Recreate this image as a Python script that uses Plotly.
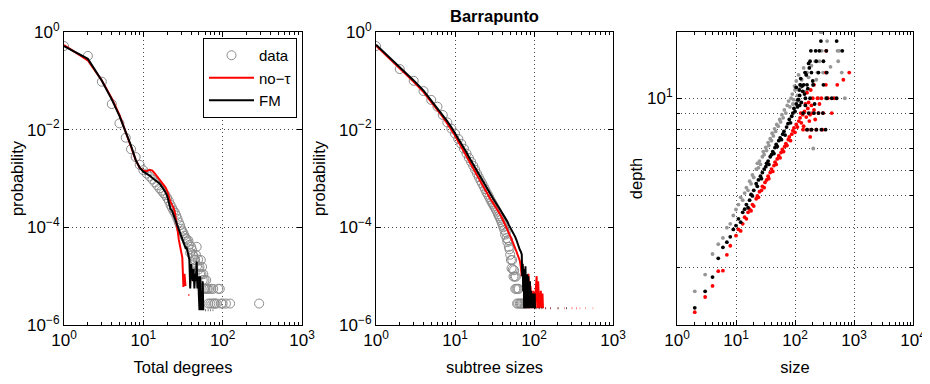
import plotly.graph_objects as go

# ---------------- data: left panel (total degrees) ----------------
deg_data = [1, 2, 3, 4, 5, 6, 7, 8, 9, 10, 11, 12, 13, 14, 15, 16, 17, 18, 19, 20,
            21, 22, 23, 24, 25, 26, 27, 28, 29, 30, 31, 32, 33, 34, 35, 36, 37, 38, 39, 40,
            41, 42, 43, 44, 45, 46, 47, 48, 49, 50, 51, 52, 53, 54, 55, 56, 57, 58, 59, 60,
            62, 63, 65, 66, 68, 70, 72, 74, 76, 78, 80, 84, 88, 92, 96, 100, 110, 124, 288]
prob_deg_data = [0.516, 0.324, 0.0959, 0.0335, 0.0135, 0.00684, 0.00398, 0.00275, 0.00191, 0.00148,
                 0.00126, 0.00110, 0.000955, 0.000832, 0.000724, 0.000631, 0.000562, 0.000501, 0.000457, 0.000398,
                 0.000347, 0.000288, 0.000251, 0.000219, 0.000200, 0.000174, 0.000148, 0.000126, 0.000110, 9.33e-5,
                 8.32e-5, 7.59e-5, 6.76e-5, 6.03e-5, 5.75e-5, 5.01e-5, 5.37e-5, 4.37e-5, 3.02e-5, 3.98e-5,
                 3.47e-5, 2.75e-5, 2.51e-5, 2.19e-5, 2.14e-5, 2.75e-5, 3.98e-5, 1.66e-5, 2.19e-5, 1.38e-5,
                 1.55e-5, 1.10e-5, 2.14e-5, 1.10e-5, 1.55e-5, 8.3e-6, 1.10e-5, 5.5e-6, 8.3e-6, 5.5e-6,
                 8.3e-6, 5.5e-6, 5.5e-6, 2.75e-6, 5.5e-6, 2.75e-6, 5.5e-6, 2.75e-6, 5.5e-6, 2.75e-6,
                 2.75e-6, 2.75e-6, 5.5e-6, 5.5e-6, 2.75e-6, 2.75e-6, 2.75e-6, 2.75e-6, 2.75e-6]

deg_not = [1, 2, 3, 4, 5, 6, 7, 8, 9, 10, 11, 12, 13, 14, 15, 16, 17, 18, 19, 20,
           21, 22, 23, 24, 25, 26, 27, 28, 29, 30, 31, 32, 33, 34, None, 37, 38]
prob_deg_not = [0.537, 0.263, 0.102, 0.0437, 0.0200, 0.00933, 0.00447, 0.00240, 0.00166, 0.00145,
                0.00141, 0.00151, 0.00145, 0.00126, 0.00110, 0.000955, 0.000832, 0.000741, 0.000661, 0.000550,
                0.000417, 0.000331, 0.000288, 0.000251, 0.000200, 0.000141, 8.9e-5, 5.6e-5, 3.98e-5, 3.16e-5,
                2.40e-5, 6.0e-6, 1.12e-5, 6.3e-6, None, 4.1e-6, 4.1e-6]

deg_fm = [1, 2, 3, 4, 5, 6, 7, 8, 9, 10, 11, 12, 13, 14, 15, 16, 17, 18, 19, 20,
          21, 22, 23, 24, 25, 26, 27, 28, 29, 30, 31, 32, 33, 34, 35, 36, 37, 38, 39, 40,
          41, 42, 43, 44, 45, 46, 47, 48, 49, 50, 51, 52, 53, 54, 55, 56, 57,
          None, 60, 61, None, 65, 66, None, 70, 71, None, 75, 76]
prob_deg_fm = [0.513, 0.282, 0.100, 0.0417, 0.0191, 0.00891, 0.00468, 0.00240, 0.00166, 0.00138,
               0.00126, 0.00115, 0.00102, 0.000933, 0.000851, 0.000794, 0.000692, 0.000603, 0.000525, 0.000437,
               0.000316, 0.000240, 0.000219, 0.000182, 0.000145, 0.000120, 0.000105, 8.91e-5, 7.59e-5, 6.31e-5,
               5.50e-5, 5.01e-5, 4.37e-5, 3.80e-5, 3.98e-5, 3.16e-5, 2.82e-5, 2.19e-5, 5.6e-6, 1.78e-5,
               1.26e-5, 7.9e-6, 1.41e-5, 5.6e-6, 1.12e-5, 7.9e-6, 2.0e-5, 5.6e-6, 1.0e-5, 5.6e-6,
               2.0e-6, 1.0e-5, 2.0e-6, 4.0e-6, 2.0e-6, 7.9e-6, 2.0e-6,
               None, 2.0e-6, 2.0e-6, None, 2.0e-6, 2.0e-6, None, 2.0e-6, 2.0e-6, None, 2.0e-6, 2.0e-6]

# ---------------- data: middle panel (subtree sizes) ----------------
sub_data = [1, 2, 3, 4, 5, 6, 7, 8, 9, 10, 11, 12, 13, 14, 15, 16, 17, 18, 19, 20,
            21, 22, 23, 24, 25, 26, 27, 28, 29, 30, 31, 32, 33, 34, 35, 36, 37, 38, 39, 40,
            41, 42, 43, 44, 45, 46, 47, 48, 49, 50, 51, 52, 53, 54, 55, 56, 57, 58, 59, 60,
            61, 62, 63, 64, 66, 68, 70, 73, 76, 80, 85]
prob_sub_data = [0.516, 0.174, 0.100, 0.0617, 0.0407, 0.0295, 0.0200, 0.0141, 0.0105, 0.00832,
                 0.00646, 0.00513, 0.00407, 0.00324, 0.00263, 0.00219, 0.00182, 0.00151, 0.00126, 0.00107,
                 0.000912, 0.000794, 0.000692, 0.000603, 0.000525, 0.000468, 0.000417, 0.000372, 0.000331, 0.000302,
                 0.000275, 0.000251, 0.000229, 0.000209, 0.000186, 0.000170, 0.000155, 0.000141, 0.000126, 0.000112,
                 0.000100, 8.9e-5, 7.1e-5, 7.9e-5, 6.0e-5, 5.0e-5, 5.5e-5, 3.98e-5, 3.55e-5, 2.75e-5,
                 2.14e-5, 1.45e-5, 2.14e-5, 1.38e-5, 9.8e-6, 1.32e-5, 9.8e-6, 5.5e-6, 9.8e-6, 5.5e-6,
                 2.75e-6, 5.5e-6, 2.75e-6, 5.5e-6, 2.75e-6, 2.75e-6, 2.75e-6, 2.75e-6, 2.75e-6, 2.75e-6, 2.75e-6]

sub_not = [1, 2, 3, 4, 5, 6, 7, 8, 9, 10, 11, 12, 13, 14, 15, 16, 17, 18, 19, 20,
           22, 24, 26, 28, 30, 32, 34, 36, 38, 40, 42, 44, 46, 48, 50, 52, 54, 56, 58, 60,
           62, 64, 66, 68, 70, 72, 74, 76, 78, 80, 83, 85, 88, 90, 94, 98, 102, 108, 110, 113,
           116, 122, 124, 128, 130,
           None, 140, 142, None, 160, 162, None, 200, 203, None, 240, 243, None, 300, 305,
           None, 340, 345, None, 380, 384, None, 450, 455, None, 555, 560]
prob_sub_not = [0.525, 0.182, 0.0955, 0.0589, 0.0372, 0.0257, 0.0182, 0.0132, 0.0100, 0.00759,
                0.00575, 0.00447, 0.00355, 0.00282, 0.00229, 0.00191, 0.00158, 0.00132, 0.00112, 0.000977,
                0.000724, 0.000575, 0.000457, 0.000380, 0.000324, 0.000275, 0.000240, 0.000204, 0.000174, 0.000148,
                0.000126, 0.000105, 8.7e-5, 7.6e-5, 6.6e-5, 5.75e-5, 5.0e-5, 4.3e-5, 3.6e-5, 3.2e-5,
                2.75e-5, 2.4e-5, 2.1e-5, 1.6e-5, 1.0e-5, 1.6e-5, 6.3e-6, 1.26e-5, 2.2e-6, 7.9e-6,
                5.0e-6, 1.12e-5, 2.2e-6, 6.3e-6, 2.2e-6, 5.0e-6, 2.2e-6, 1.0e-5, 2.2e-6, 7.9e-6,
                2.2e-6, 5.0e-6, 2.2e-6, 4.4e-6, 2.2e-6,
                None, 2.2e-6, 2.2e-6, None, 2.2e-6, 2.2e-6, None, 2.2e-6, 2.2e-6, None, 2.2e-6, 2.2e-6,
                None, 2.2e-6, 2.2e-6, None, 2.2e-6, 2.2e-6, None, 2.2e-6, 2.2e-6, None, 2.2e-6, 2.2e-6,
                None, 2.2e-6, 2.2e-6]

sub_fm = [1, 2, 3, 4, 5, 6, 7, 8, 9, 10, 11, 12, 13, 14, 15, 16, 17, 18, 19, 20,
          22, 24, 26, 28, 30, 32, 34, 36, 38, 40, 42, 44, 46, 48, 50, 52, 54, 56, 58, 60,
          62, 64, 66, 68, 70, 71, 72, 73, 74, 75, 76, 77, 78, 79, 80, 81, 82, 83, 84, 85,
          86, 87, 88, 89, 90, 92, 93, 95, 96, 98, 99, 102, 103, 104,
          None, 107, 108, None, 115, 117, None, 125, 127, None, 140, 142, None, 160, 162,
          None, 200, 203, None, 255, 260]
prob_sub_fm = [0.550, 0.191, 0.102, 0.0631, 0.0398, 0.0282, 0.0200, 0.0148, 0.0112, 0.00851,
               0.00661, 0.00525, 0.00417, 0.00339, 0.00275, 0.00229, 0.00191, 0.00158, 0.00135, 0.00117,
               0.000891, 0.000708, 0.000562, 0.000468, 0.000398, 0.000339, 0.000295, 0.000257, 0.000219, 0.000191,
               0.000170, 0.000148, 0.000132, 0.000112, 0.000100, 8.7e-5, 7.9e-5, 6.9e-5, 6.3e-5, 5.5e-5,
               4.5e-5, 4.2e-5, 3.5e-5, 3.2e-5, 2.8e-5, 1.0e-5, 1.8e-5, 5.0e-6, 1.4e-5, 2.2e-6,
               1.26e-5, 6.3e-6, 1.6e-5, 2.2e-6, 1.0e-5, 5.0e-6, 1.1e-5, 2.2e-6, 6.3e-6, 1.0e-5,
               2.2e-6, 5.0e-6, 2.2e-6, 7.9e-6, 2.2e-6, 5.0e-6, 2.2e-6, 4.4e-6, 2.2e-6, 4.4e-6, 2.2e-6, 4.4e-6, 2.2e-6, 2.2e-6,
               None, 2.2e-6, 2.2e-6, None, 2.2e-6, 2.2e-6, None, 2.2e-6, 2.2e-6, None, 2.2e-6, 2.2e-6,
               None, 2.2e-6, 2.2e-6, None, 2.2e-6, 2.2e-6, None, 2.2e-6, 2.2e-6]

# ---------------- data: right panel (size vs depth) ----------------
size_data = [2, 3, 4, 5, 6, 7, 8, 9, 10, 11, 12, 13, 14, 15, 16, 17, 18, 19, 20, 22,
             23, 24, 25, 26, 28, 29, 30, 32, 33, 35, 36, 38, 40, 41, 43, 45, 47, 49, 52, 55,
             57, 60, 63, 66, 70, 74, 78, 82, 86, 90, 95, 100, 110, 120,
             130, 150, 160, 185, 200, 204, 220, 240, 250, 270, 290, 284, 300, 330, 350, 400,
             525, 560, 540, 620, 700, 180,
             105, 115, 125, 140, 170, 190, 230, 260, 110, 92, 98]
depth_data = [2.54, 2.86, 3.31, 3.55, 3.71, 3.99, 4.10, 4.35, 4.54, 4.70, 4.95, 4.85, 5.10, 5.30, 5.20, 5.55, 5.45, 5.80, 5.70, 6.05,
              6.30, 6.10, 6.40, 6.25, 6.60, 6.85, 6.70, 7.05, 6.90, 7.30, 7.15, 7.50, 7.40, 7.80, 7.65, 8.05, 7.90, 8.30, 8.20, 8.60,
              8.45, 8.90, 8.70, 9.20, 9.00, 9.50, 9.80, 9.40, 10.0, 10.3, 9.9, 10.6, 10.2, 11.0,
              11.4, 10.5, 12.0, 9.0, 11.0, 7.0, 13.0, 12.0, 10.0, 16.0, 16.0, 14.0, 12.0, 10.0, 15.0, 12.5,
              14.0, 14.0, 13.0, 12.0, 10.0, 8.0,
              11.3, 11.8, 10.8, 12.4, 11.6, 12.6, 11.4, 13.0, 9.8, 9.6, 10.9]

size_not = [2, 3, 4, 5, 6, 7, 8, 10, 11, 12, 13, 14, 15, 16, 17, 18, 19, 20, 22, 23,
            24, 25, 27, 28, 30, 31, 33, 35, 36, 38, 40, 42, 44, 46, 48, 50, 53, 56, 58, 61,
            64, 67, 70, 73, 77, 80, 84, 88, 92, 96, 100, 105, 110, 116, 122, 128, 135, 145, 155, 165,
            137, 160, 190, 230, 290, 200, 250, 300, 420, 200, 240, 280, 360, 460,
            210, 334, 520, 660, 334, 830, 339, 181,
            170, 180, 190, 210, 150, 140, 125, 175, 220, 260, 160, 185]
depth_not = [2.19, 2.44, 2.64, 2.93, 2.94, 3.29, 3.51, 3.77, 3.94, 3.90, 4.10, 4.30, 4.25, 4.45, 4.55, 4.50, 4.70, 4.65, 4.90, 5.00,
             4.95, 5.15, 5.20, 5.35, 5.30, 5.50, 5.60, 5.75, 5.65, 5.90, 6.05, 5.95, 6.20, 6.35, 6.25, 6.50, 6.65, 6.55, 6.80, 6.95,
             6.85, 7.10, 7.25, 7.15, 7.45, 7.60, 7.40, 7.75, 7.95, 8.10, 7.85, 8.30, 8.15, 8.50, 8.70, 8.40, 8.90, 9.10, 8.75, 9.30,
             8, 8, 8, 8, 8, 9, 9, 9, 9, 10, 10, 10, 10, 10,
             11, 11, 11, 11.4, 12, 12, 14, 7.6,
             9.7, 8.9, 9.5, 9.2, 9.6, 8.2, 9.0, 8.5, 8.6, 9.6, 10.4, 10.6]

size_fm = [2, 3, 4, 5, 6, 7, 8, 9, 10, 11, 12, 13, 14, 15, 16, 17, 18, 19, 20, 22,
           23, 24, 26, 27, 28, 30, 32, 33, 35, 36, 38, 40, 42, 44, 46, 48, 50, 53, 56, 59,
           62, 65, 68, 72, 76, 80, 84, 88, 92, 96, 100, 105, 110, 115, 120, 128, 135, 140,
           160, 190, 230, 280, 330, 137, 170, 210, 250, 297, 150, 180, 345, 420, 508,
           123, 160, 204, 303, 148, 190, 250, 345, 180, 230, 303, 186, 224, 258, 339, 633, 275, 508,
           105, 118, 125, 132, 145, 155, 165, 175, 200, 215, 150, 170, 120, 112]
depth_fm = [2.26, 2.54, 2.81, 3.21, 3.47, 3.60, 3.74, 3.94, 4.05, 4.25, 4.15, 4.45, 4.55, 4.70, 4.60, 4.85, 5.05, 5.00, 5.20, 5.45,
            5.35, 5.60, 5.75, 5.65, 5.90, 6.05, 6.15, 6.30, 6.40, 6.25, 6.60, 6.70, 6.85, 6.75, 7.05, 7.20, 7.10, 7.40, 7.55, 7.45,
            7.75, 7.90, 7.70, 8.15, 8.35, 8.60, 8.40, 8.80, 9.00, 9.30, 9.10, 9.60, 9.40, 9.90, 10.2, 9.7, 10.5, 11.0,
            8, 8, 8, 8, 8, 9, 9, 9, 9, 9, 10, 10, 10, 10, 10,
            11, 11, 11, 11, 12, 12, 12, 12, 13, 13, 13, 14, 14, 14, 14, 14, 15, 15,
            10.8, 10.6, 11.5, 10.9, 10.3, 11.8, 10.7, 12.4, 11.3, 9.6, 9.5, 12.8, 9.5, 9.9]

# ---------------- tick labels ----------------
x_tickvals_3 = [1, 10, 100, 1000]
x_ticktext_3 = ["10<sup>0</sup>", "10<sup>1</sup>", "10<sup>2</sup>", "10<sup>3</sup>"]
x_tickvals_4 = [1, 10, 100, 1000, 10000]
x_ticktext_4 = ["10<sup>0</sup>", "10<sup>1</sup>", "10<sup>2</sup>", "10<sup>3</sup>", "10<sup>4</sup>"]
p_tickvals = [1e-6, 1e-4, 1e-2, 1]
p_ticktext = ["10<sup>−6</sup>", "10<sup>−4</sup>", "10<sup>−2</sup>", "10<sup>0</sup>"]
depth_tickvals = [10]
depth_ticktext = ["10<sup>1</sup>"]
depth_minor_vals = [2, 3, 4, 5, 6, 7, 8, 9]

GRAY = "rgb(140,140,140)"
RED = "rgb(255,0,0)"
BLACK = "rgb(0,0,0)"
FONT = "Liberation Sans, Arial, Helvetica, sans-serif"
GRIDDASH = "1px,3px"
GRIDCOLOR = "rgba(0,0,0,0.7)"

fig = go.Figure()

# left panel
fig.add_trace(go.Scatter(x=deg_data, y=prob_deg_data, mode="markers", name="data",
                         marker=dict(symbol="circle-open", size=9, color=GRAY, line=dict(width=1)),
                         xaxis="x", yaxis="y"))
fig.add_trace(go.Scatter(x=deg_not, y=prob_deg_not, mode="lines", name="no−τ",
                         line=dict(color=RED, width=2), connectgaps=False, xaxis="x", yaxis="y"))
fig.add_trace(go.Scatter(x=deg_fm, y=prob_deg_fm, mode="lines", name="FM",
                         line=dict(color=BLACK, width=2), connectgaps=False, xaxis="x", yaxis="y"))

# middle panel
fig.add_trace(go.Scatter(x=sub_data, y=prob_sub_data, mode="markers", showlegend=False,
                         marker=dict(symbol="circle-open", size=9, color=GRAY, line=dict(width=1)),
                         xaxis="x2", yaxis="y2"))
fig.add_trace(go.Scatter(x=sub_not, y=prob_sub_not, mode="lines", showlegend=False,
                         line=dict(color=RED, width=2), connectgaps=False, xaxis="x2", yaxis="y2"))
fig.add_trace(go.Scatter(x=sub_fm, y=prob_sub_fm, mode="lines", showlegend=False,
                         line=dict(color=BLACK, width=2), connectgaps=False, xaxis="x2", yaxis="y2"))

# right panel
fig.add_trace(go.Scatter(x=size_data, y=depth_data, mode="markers", showlegend=False,
                         marker=dict(symbol="circle", size=3.8, color="rgb(150,150,150)"),
                         xaxis="x3", yaxis="y3"))
fig.add_trace(go.Scatter(x=size_not, y=depth_not, mode="markers", showlegend=False,
                         marker=dict(symbol="circle", size=3.8, color=RED),
                         xaxis="x3", yaxis="y3"))
fig.add_trace(go.Scatter(x=size_fm, y=depth_fm, mode="markers", showlegend=False,
                         marker=dict(symbol="circle", size=3.8, color=BLACK),
                         xaxis="x3", yaxis="y3"))

# the page body adds an 8px margin; size the figure so the page never overflows
OFF = 8
W, H = 930 - 2 * OFF, 384 - 2 * OFF


def xd(a, b):
    return [(a - OFF) / W, (b - OFF) / W]


ydom = [1 - (325 - OFF) / H, 1 - (32 - OFF) / H]

common = dict(type="log", showline=True, linecolor="black", linewidth=1, mirror="ticks",
              ticks="inside", ticklen=5, tickcolor="black", automargin=False,
              showgrid=True, gridcolor=GRIDCOLOR, griddash=GRIDDASH, gridwidth=1,
              zeroline=False, tickfont=dict(family=FONT, size=17, color="black"),
              tickmode="array", ticklabeloverflow="allow")
minor_x = dict(ticks="inside", ticklen=3, tickcolor="black", dtick="D1", showgrid=False)
minor_depth = dict(ticks="inside", ticklen=3, tickcolor="black", tickmode="array",
                   tickvals=depth_minor_vals, showgrid=True, gridcolor=GRIDCOLOR,
                   griddash=GRIDDASH, gridwidth=1)
TITLE_FONT = dict(family=FONT, size=16.5, color="black")

layout = dict(
    template="none",
    width=W, height=H, margin=dict(l=0, r=0, t=0, b=0, autoexpand=False),
    paper_bgcolor="white", plot_bgcolor="white",
    font=dict(family=FONT, size=16, color="black"),
    title=dict(text="<b>Barrapunto</b>", x=(494.5 - OFF) / W, xanchor="center",
               y=1 - 2 / H, yanchor="top", pad=dict(t=0, b=0, l=0, r=0),
               font=dict(family=FONT, size=16.5, color="black")),
    showlegend=True,
    legend=dict(x=(203 - OFF) / W, y=1 - (38 - OFF) / H, xanchor="left", yanchor="top",
                bordercolor="black", borderwidth=1, bgcolor="white",
                font=dict(family=FONT, size=15, color="black"),
                itemwidth=45, tracegroupgap=0),
    xaxis=dict(common, domain=xd(64, 302), range=[0, 3], anchor="y",
               tickvals=x_tickvals_3, ticktext=x_ticktext_3, minor=minor_x,
               title=dict(text="Total degrees", standoff=14, font=TITLE_FONT)),
    yaxis=dict(common, domain=ydom, range=[-6, 0], anchor="x",
               tickvals=p_tickvals, ticktext=p_ticktext,
               title=dict(text="probability", standoff=9, font=TITLE_FONT)),
    xaxis2=dict(common, domain=xd(376, 613), range=[0, 3], anchor="y2",
                tickvals=x_tickvals_3, ticktext=x_ticktext_3, minor=minor_x,
                title=dict(text="subtree sizes", standoff=14, font=TITLE_FONT)),
    yaxis2=dict(common, domain=ydom, range=[-6, 0], anchor="x2",
                tickvals=p_tickvals, ticktext=p_ticktext,
                title=dict(text="probability", standoff=9, font=TITLE_FONT)),
    xaxis3=dict(common, domain=xd(677, 913), range=[0, 4], anchor="y3",
                tickvals=x_tickvals_4, ticktext=x_ticktext_4, minor=minor_x,
                title=dict(text="size", standoff=14, font=TITLE_FONT)),
    yaxis3=dict(common, domain=ydom, range=[0.30103, 1.20412], anchor="x3",
                tickvals=depth_tickvals, ticktext=depth_ticktext, minor=minor_depth,
                title=dict(text="depth", standoff=0, font=TITLE_FONT)),
)
fig.update_layout(**layout)
fig.write_html("out.html")
